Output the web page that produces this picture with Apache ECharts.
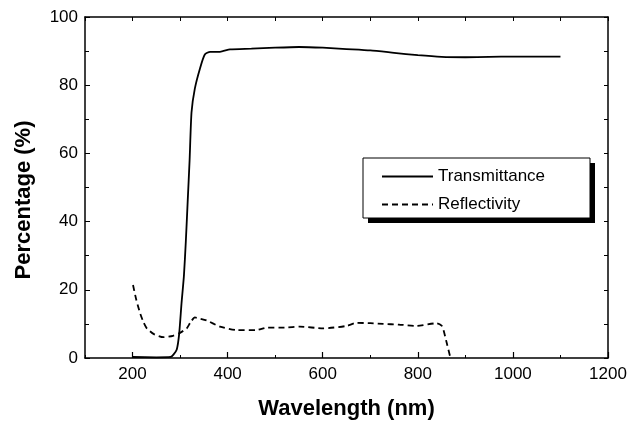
<!DOCTYPE html>
<html>
<head>
<meta charset="utf-8">
<script src="https://cdn.jsdelivr.net/npm/echarts@6/dist/echarts.min.js"></script>
<style>html,body{margin:0;padding:0;background:#fff}#c{width:628px;height:421px}</style>
</head>
<body>
<div id="c"></div>
<script>
var transWavelength = [200,250,280,286,293,298,303,308,312,316,320,324,331,342,352,363,384,405,450,500,550,600,650,700,750,800,850,900,950,1000,1050,1100];
var transValues = [0.3,0.2,0.3,1,2.5,7,16,24,34,46,58,72,79,85,89,89.8,89.8,90.5,90.7,91,91.2,91,90.6,90.2,89.5,88.8,88.3,88.2,88.3,88.4,88.4,88.4];
var reflWavelength = [201,208,216,223,230,245,265,285,299,314,322,331,340,356,384,419,461,482,520,552,601,650,671,700,727,760,798,840,850,854,861,868];
var reflValues = [21.4,17,13.1,10.5,8.7,7,6.1,6.5,7.3,8.7,10.5,11.9,11.6,11,9.2,8.2,8.2,8.9,8.9,9.2,8.7,9.4,10.3,10.2,10,9.8,9.4,10.2,9.5,8.2,4.3,0.4];
var xMajorTicks = [200,400,600,800,1000,1200];
var seriesNames = ['Transmittance','Reflectivity'];
var xTitle = 'Wavelength (nm)';
var yTitle = 'Percentage (%)';

function zip(a,b){return a.map(function(v,i){return [v,b[i]];});}
var FONT = 'Liberation Sans, Arial, sans-serif';
var chart = echarts.init(document.getElementById('c'), null, {renderer:'canvas'});
chart.setOption({
  animation:false,
  backgroundColor:'#fff',
  grid:{left:85,right:20,top:17,bottom:63, containLabel:false, outerBoundsMode:'none'},
  graphic:[
    {type:'rect', z:3, silent:true, shape:{x:368,y:163,width:227,height:60}, style:{fill:'#000'}},
    {type:'rect', z:3, silent:true, shape:{x:363,y:158,width:227,height:60}, style:{fill:'#fff', stroke:'#000', lineWidth:1}}
  ],
  legend:{
    left:363, top:158, orient:'vertical', z:5,
    itemWidth:51, itemHeight:14, itemGap:11,
    padding:[10,45,4,18],
    itemStyle:{opacity:0},
    textStyle:{fontFamily:FONT, fontSize:17, color:'#000'},
    data:seriesNames
  },
  xAxis:[
    {type:'value', position:'bottom', min:100, max:1200, interval:100,
     name:xTitle, nameLocation:'middle', nameGap:40,
     nameTextStyle:{fontFamily:FONT, fontSize:22, fontWeight:'bold', color:'#000'},
     axisLine:{show:true, lineStyle:{color:'#000', width:1.5}},
     axisTick:{show:true, inside:true, length:3, lineStyle:{color:'#000', width:1}},
     axisLabel:{fontFamily:FONT, fontSize:17, color:'#000', margin:8,
       formatter:function(v){return v%200===0?String(v):'';}},
     splitLine:{show:false}},
    {type:'value', position:'bottom', min:100, max:1200, interval:100,
     axisLine:{show:false},
     axisTick:{show:true, inside:true, length:6, customValues:xMajorTicks, lineStyle:{color:'#000', width:1.2}},
     axisLabel:{show:false}, splitLine:{show:false}},
    {type:'value', position:'top', min:100, max:1200, interval:100,
     axisLine:{show:true, lineStyle:{color:'#000', width:1.5}},
     axisTick:{show:true, inside:true, length:4, lineStyle:{color:'#000', width:1}},
     axisLabel:{show:false}, splitLine:{show:false}}
  ],
  yAxis:[
    {type:'value', position:'left', min:0, max:100, interval:20,
     name:yTitle, nameLocation:'middle', nameGap:50,
     nameTextStyle:{fontFamily:FONT, fontSize:22, fontWeight:'bold', color:'#000', padding:[0,25,0,0]},
     axisLine:{show:true, lineStyle:{color:'#000', width:1.5}},
     axisTick:{show:true, inside:true, length:5, lineStyle:{color:'#000', width:1}},
     minorTick:{show:true, splitNumber:2, length:4, lineStyle:{color:'#000', width:1}},
     axisLabel:{fontFamily:FONT, fontSize:17, color:'#000', margin:7},
     splitLine:{show:false}, minorSplitLine:{show:false}},
    {type:'value', position:'right', min:0, max:100, interval:10,
     axisLine:{show:true, lineStyle:{color:'#000', width:1.5}},
     axisTick:{show:true, inside:true, length:4, lineStyle:{color:'#000', width:1}},
     axisLabel:{show:false}, splitLine:{show:false}}
  ],
  series:[
    {name:seriesNames[0], type:'line', xAxisIndex:0, yAxisIndex:0, symbol:'none', smooth:0.2,
     lineStyle:{color:'#000', width:1.8, type:'solid'}, itemStyle:{color:'#000'},
     data:zip(transWavelength, transValues)},
    {name:seriesNames[1], type:'line', xAxisIndex:0, yAxisIndex:0, symbol:'none', smooth:0.2,
     lineStyle:{color:'#000', width:1.8, type:[6,4]}, itemStyle:{color:'#000'},
     data:zip(reflWavelength, reflValues)}
  ]
});
</script>
</body>
</html>
